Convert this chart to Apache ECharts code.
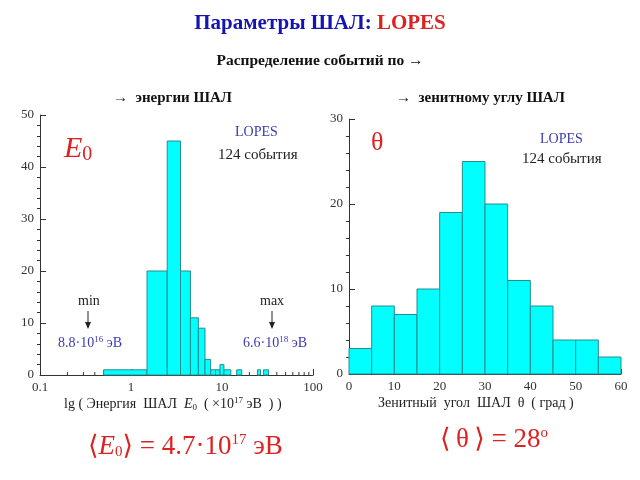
<!DOCTYPE html>
<html><head><meta charset="utf-8">
<script src="https://cdn.jsdelivr.net/npm/echarts@6/dist/echarts.min.js"></script>
<style>html,body{margin:0;padding:0;background:#fff}#c{width:640px;height:480px}</style>
</head><body><div id="c"></div>
<script>
// ---- data ----
const energyLo = [0.5, 1.5, 2.5, 3.5, 4.5, 5.5, 6.5, 7.5, 8.5, 9.5, 10.5, 14.5, 24.5, 28.5];
const energyHi = [1.5, 2.5, 3.5, 4.5, 5.5, 6.5, 7.5, 8.5, 9.5, 10.5, 12.5, 16.5, 26.5, 32.5];
const energyCounts = [1, 20, 45, 20, 11, 9, 3, 1, 1, 2, 1, 1, 1, 1];
const thetaLo = [0, 5, 10, 15, 20, 25, 30, 35, 40, 45, 50, 55];
const thetaHi = [5, 10, 15, 20, 25, 30, 35, 40, 45, 50, 55, 60];
const thetaCounts = [3, 8, 7, 10, 19, 25, 20, 11, 8, 4, 4, 2];
const logMinorTicks = [0.2,0.3,0.4,0.5,0.6,0.7,0.8,0.9,2,3,4,5,6,7,8,9,20,30,40,50,60,70,80,90];

const SERIF = "'Liberation Serif','DejaVu Serif',serif";
const chart = echarts.init(document.getElementById('c'), null, {renderer:'canvas'});

function histItem(params, api){
  const lo = api.value(0), hi = api.value(1), c = api.value(2);
  const p0 = api.coord([lo, 0]), p1 = api.coord([hi, c]);
  return {type:'rect', shape:{x:p0[0], y:p1[1], width:p1[0]-p0[0], height:p0[1]-p1[1]},
    style:{fill:'#00ffff', stroke:'#2a8c8c', lineWidth:1}};
}
function minorTickItem(params, api){
  const p = api.coord([api.value(0), 0]);
  return {type:'line', shape:{x1:p[0], y1:p[1], x2:p[0], y2:p[1]-3}, style:{stroke:'#333', lineWidth:1}};
}

const axisLabel = {fontFamily:SERIF, fontSize:13, color:'#333'};
const axisLine = {show:true, lineStyle:{color:'#333', width:1}};

const option = {
  animation:false,
  backgroundColor:'#fff',
  grid:[
    {left:40, top:115, width:273, height:260},
    {left:349, top:119, width:272, height:255}
  ],
  xAxis:[
    {gridIndex:0, type:'log', logBase:10, min:0.1, max:100, axisLine,
     axisTick:{show:true, inside:true, length:6, lineStyle:{color:'#333'}},
     axisLabel:Object.assign({margin:6}, axisLabel), splitLine:{show:false}},
    {gridIndex:1, type:'value', min:0, max:60, interval:10, axisLine,
     axisTick:{show:true, inside:true, length:5, lineStyle:{color:'#333'}},
     axisLabel:Object.assign({margin:6}, axisLabel), splitLine:{show:false}}
  ],
  yAxis:[
    {gridIndex:0, type:'value', min:0, max:50, interval:10, axisLine,
     axisTick:{show:true, inside:true, length:6, lineStyle:{color:'#333'}},
     minorTick:{show:true, splitNumber:5, length:-3, lineStyle:{color:'#333'}},
     axisLabel:Object.assign({margin:6}, axisLabel), splitLine:{show:false}},
    {gridIndex:1, type:'value', min:0, max:30, interval:10, axisLine,
     axisTick:{show:true, inside:true, length:6, lineStyle:{color:'#333'}},
     minorTick:{show:true, splitNumber:5, length:-3, lineStyle:{color:'#333'}},
     axisLabel:Object.assign({margin:6}, axisLabel), splitLine:{show:false}}
  ],
  series:[
    {type:'custom', xAxisIndex:0, yAxisIndex:0, renderItem:minorTickItem, silent:true,
     data:logMinorTicks.map(v=>[v]), encode:{x:0}, z:1},
    {type:'custom', xAxisIndex:0, yAxisIndex:0, renderItem:histItem, silent:true,
     data:energyLo.map((v,i)=>[v, energyHi[i], energyCounts[i]]), encode:{x:[0,1], y:2}, z:2},
    {type:'custom', xAxisIndex:1, yAxisIndex:1, renderItem:histItem, silent:true,
     data:thetaLo.map((v,i)=>[v, thetaHi[i], thetaCounts[i]]), encode:{x:[0,1], y:2}, z:2}
  ],
  graphic:[
    {type:'text', left:'center', top:13, style:{rich:{
      a:{fontFamily:SERIF, fontSize:21, fontWeight:'bold', fill:'#1414b4'},
      l:{fontFamily:SERIF, fontSize:21, fontWeight:'bold', fill:'#dd2222'}},
      text:'{a|Параметры ШАЛ: }{l|LOPES}'}},
    {type:'text', left:'center', top:53, style:{text:'Распределение событий по →', fontFamily:SERIF, fontSize:15.5, fontWeight:'bold', fill:'#111'}},
    {type:'text', left:113, top:91, style:{text:'→  энергии ШАЛ', fontFamily:SERIF, fontSize:15, fontWeight:'bold', fill:'#111'}},
    {type:'text', left:396, top:91, style:{text:'→  зенитному углу ШАЛ', fontFamily:SERIF, fontSize:15, fontWeight:'bold', fill:'#111'}},
    // left panel annotations
    {type:'text', left:64, top:134, style:{rich:{
      e:{fontFamily:SERIF, fontSize:30, fontStyle:'italic', fill:'#dd2222'},
      s:{fontFamily:SERIF, fontSize:20, fill:'#dd2222', padding:[12,0,0,0]}},
      text:'{e|E}{s|0}'}},
    {type:'text', left:235, top:125, style:{text:'LOPES', fontFamily:SERIF, fontSize:14, fill:'#3a3ab0'}},
    {type:'text', left:218, top:148, style:{text:'124 события', fontFamily:SERIF, fontSize:15, fill:'#222'}},
    {type:'text', left:78, top:294, style:{text:'min', fontFamily:SERIF, fontSize:14, fill:'#222'}},
    {type:'text', left:260, top:294, style:{text:'max', fontFamily:SERIF, fontSize:14, fill:'#222'}},
    {type:'line', shape:{x1:88, y1:311, x2:88, y2:327}, style:{stroke:'#222', lineWidth:1}},
    {type:'polygon', shape:{points:[[85,322],[91,322],[88,329]]}, style:{fill:'#222'}},
    {type:'line', shape:{x1:272, y1:311, x2:272, y2:327}, style:{stroke:'#222', lineWidth:1}},
    {type:'polygon', shape:{points:[[269,322],[275,322],[272,329]]}, style:{fill:'#222'}},
    {type:'text', left:58, top:335, style:{rich:{
      b:{fontFamily:SERIF, fontSize:14, fill:'#3a3ab0'},
      s:{fontFamily:SERIF, fontSize:9, fill:'#3a3ab0', padding:[0,0,8,0]}},
      text:'{b|8.8·10}{s|16}{b| эВ}'}},
    {type:'text', left:243, top:335, style:{rich:{
      b:{fontFamily:SERIF, fontSize:14, fill:'#3a3ab0'},
      s:{fontFamily:SERIF, fontSize:9, fill:'#3a3ab0', padding:[0,0,8,0]}},
      text:'{b|6.6·10}{s|18}{b| эВ}'}},
    {type:'text', left:64, top:396, style:{rich:{
      t:{fontFamily:SERIF, fontSize:14, fill:'#222'},
      i:{fontFamily:SERIF, fontSize:14, fontStyle:'italic', fill:'#222'},
      sb:{fontFamily:SERIF, fontSize:9, fill:'#222', padding:[6,0,0,0]},
      sp:{fontFamily:SERIF, fontSize:9, fill:'#222', padding:[0,0,8,0]}},
      text:'{t|lg ( Энергия  ШАЛ  }{i|E}{sb|0}{t|  ( ×10}{sp|17}{t| эВ  ) )}'}},
    // right panel annotations
    {type:'text', left:371, top:130, style:{text:'θ', fontFamily:SERIF, fontSize:26, fill:'#dd2222'}},
    {type:'text', left:540, top:132, style:{text:'LOPES', fontFamily:SERIF, fontSize:14, fill:'#3a3ab0'}},
    {type:'text', left:522, top:152, style:{text:'124 события', fontFamily:SERIF, fontSize:15, fill:'#222'}},
    {type:'text', left:378, top:396, style:{text:'Зенитный  угол  ШАЛ  θ  ( град )', fontFamily:SERIF, fontSize:14, fill:'#222'}},
    // bottom means
    {type:'text', left:88, top:433, style:{rich:{
      r:{fontFamily:SERIF, fontSize:27, fill:'#dd2222'},
      ri:{fontFamily:SERIF, fontSize:27, fontStyle:'italic', fill:'#dd2222'},
      sb:{fontFamily:SERIF, fontSize:15, fill:'#dd2222', padding:[12,0,0,0]},
      sp:{fontFamily:SERIF, fontSize:15, fill:'#dd2222', padding:[0,0,12,0]}},
      text:'{r|⟨}{ri|E}{sb|0}{r|⟩ = 4.7·10}{sp|17}{r| эВ}'}},
    {type:'text', left:440, top:426, style:{rich:{
      r:{fontFamily:SERIF, fontSize:27, fill:'#dd2222'},
      sp:{fontFamily:SERIF, fontSize:15, fill:'#dd2222', padding:[0,0,12,0]}},
      text:'{r|⟨\u2009θ\u2009⟩ = 28}{sp|o}'}}
  ]
};
chart.setOption(option);
</script></body></html>
